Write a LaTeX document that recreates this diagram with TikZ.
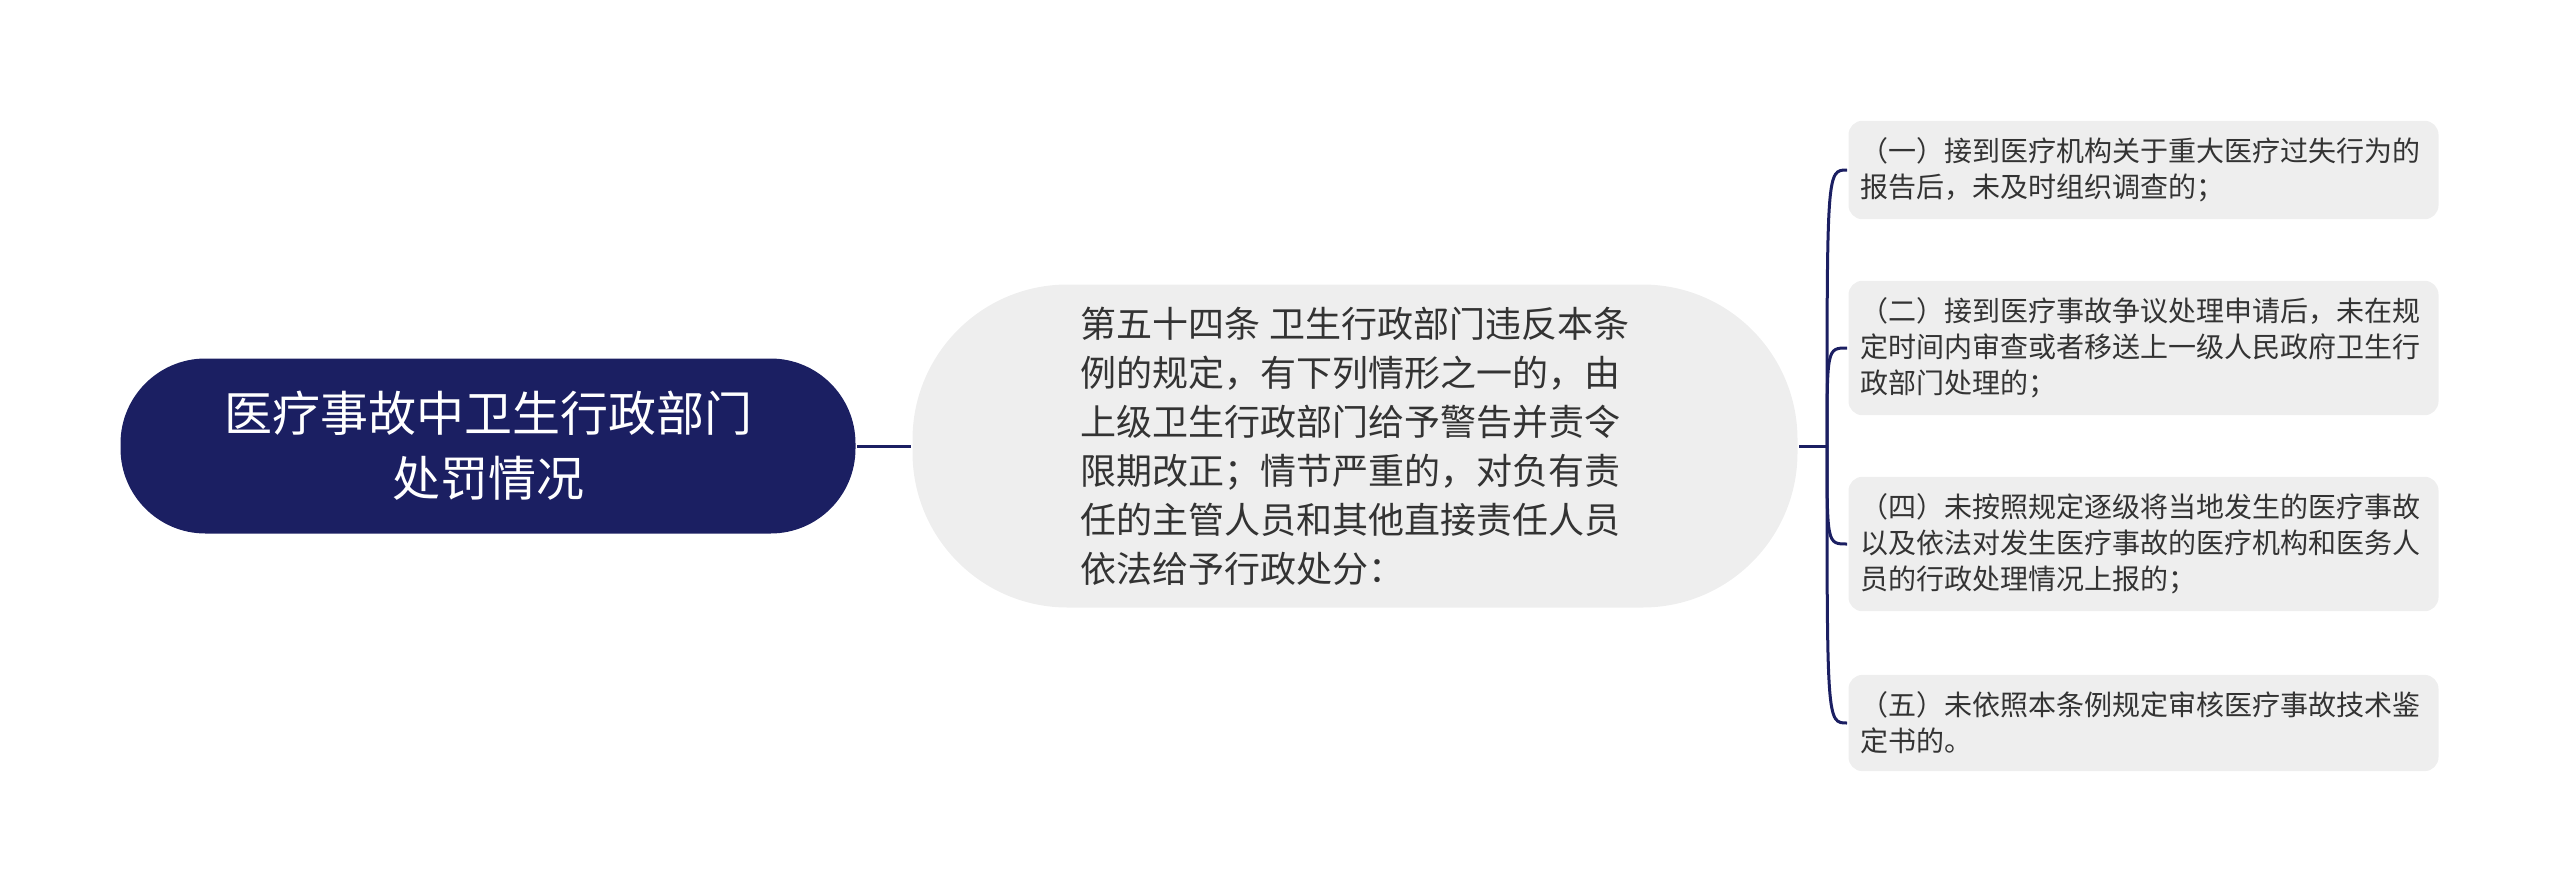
\documentclass[tikz,border=0pt]{standalone}
\usepackage{fontspec}
\newfontfamily\cjk{Noto Sans CJK SC}
\usetikzlibrary{positioning}
\definecolor{navy}{HTML}{1B1F62}
\definecolor{boxgray}{HTML}{EEEEEE}
\definecolor{txtgray}{HTML}{333333}

\begin{document}
\begin{tikzpicture}[x=1pt,y=-1pt,line width=3pt,node distance=54pt,
    root node/.style={fill=navy,text=white,rounded corners=85pt,minimum width=735pt,
      minimum height=175pt,align=center,font=\cjk\fontsize{48}{65}\selectfont},
    main node/.style={fill=boxgray,text=txtgray,rounded corners=155pt,minimum width=885pt,
      minimum height=323pt,align=left,font=\cjk\fontsize{36}{49}\selectfont},
    leaf node/.style={fill=boxgray,text=txtgray,rounded corners=14pt,text width=566pt,
      inner xsep=12pt,inner ysep=17pt,align=left,font=\cjk\fontsize{28}{36}\selectfont}]
    \useasboundingbox (0,0) rectangle (2560,895);
    \node[root node] (root) at (488,446) {医疗事故中卫生行政部门\\处罚情况};
    \node[main node] (main) [right=of root] {第五十四条 卫生行政部门违反本条\\例的规定，有下列情形之一的，由\\上级卫生行政部门给予警告并责令\\限期改正；情节严重的，对负有责\\任的主管人员和其他直接责任人员\\依法给予行政处分：};
    \node[leaf node] (l1) [right=48pt of main,yshift=276pt] {（一）接到医疗机构关于重大医疗过失行为的\\报告后，未及时组织调查的；};
    \node[leaf node] (l2) [right=48pt of main,yshift=98pt] {（二）接到医疗事故争议处理申请后，未在规\\定时间内审查或者移送上一级人民政府卫生行\\政部门处理的；};
    \node[leaf node] (l4) [right=48pt of main,yshift=-98pt] {（四）未按照规定逐级将当地发生的医疗事故\\以及依法对发生医疗事故的医疗机构和医务人\\员的行政处理情况上报的；};
    \node[leaf node] (l5) [right=48pt of main,yshift=-277pt] {（五）未依照本条例规定审核医疗事故技术鉴\\定书的。};
    \coordinate (fork) at ([xshift=28pt]main.east);
    \path[draw=navy]
    (root) edge (main)
    (main) edge (fork);
    % branches to the items
    \draw[navy] (fork) .. controls (fork |- l1.west) .. (l1.west);
    \draw[navy] (fork) .. controls (fork |- l2.west) .. (l2.west);
    \draw[navy] (fork) .. controls (fork |- l4.west) .. (l4.west);
    \draw[navy] (fork) .. controls (fork |- l5.west) .. (l5.west);
\end{tikzpicture}
\end{document}
